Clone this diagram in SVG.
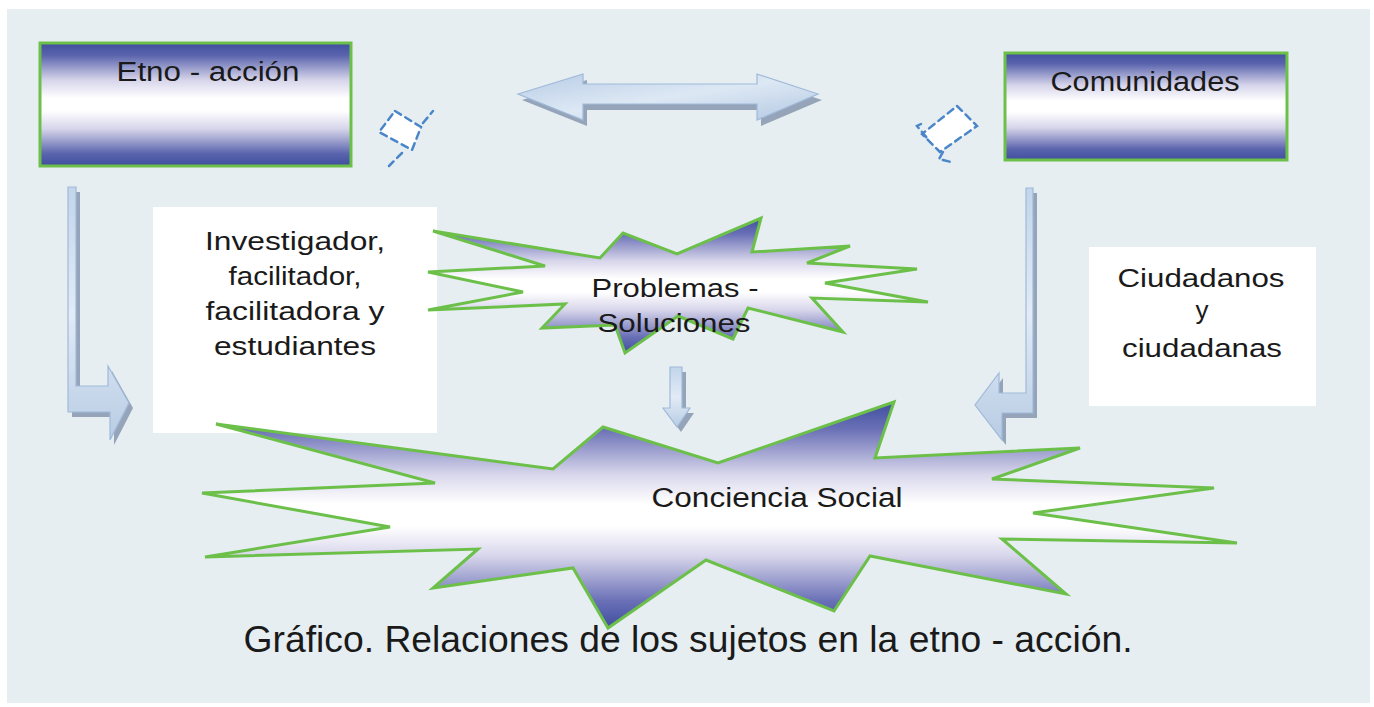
<svg xmlns="http://www.w3.org/2000/svg" width="1374" height="707" viewBox="0 0 1374 707">
<defs>
<linearGradient id="boxg" x1="0" y1="0" x2="0" y2="1">
<stop offset="0" stop-color="#3f4e9f"/>
<stop offset="0.1" stop-color="#5a64ad"/>
<stop offset="0.3" stop-color="#d6d4ea"/>
<stop offset="0.45" stop-color="#ffffff"/>
<stop offset="0.55" stop-color="#ffffff"/>
<stop offset="0.7" stop-color="#d6d4ea"/>
<stop offset="0.9" stop-color="#5a64ad"/>
<stop offset="1" stop-color="#3f4e9f"/>
</linearGradient>
<linearGradient id="starg" x1="0" y1="0" x2="0" y2="1">
<stop offset="0" stop-color="#3f4e9f"/>
<stop offset="0.12" stop-color="#6a70b6"/>
<stop offset="0.32" stop-color="#d8d6eb"/>
<stop offset="0.45" stop-color="#ffffff"/>
<stop offset="0.55" stop-color="#ffffff"/>
<stop offset="0.68" stop-color="#d8d6eb"/>
<stop offset="0.88" stop-color="#6a70b6"/>
<stop offset="1" stop-color="#3f4e9f"/>
</linearGradient>
<linearGradient id="arrg" x1="0" y1="0" x2="1" y2="1">
<stop offset="0" stop-color="#b8cde6"/>
<stop offset="0.5" stop-color="#dde8f4"/>
<stop offset="1" stop-color="#b3c8e2"/>
</linearGradient>
<linearGradient id="arrgv" x1="0" y1="0" x2="0" y2="1">
<stop offset="0" stop-color="#c2d5ea"/>
<stop offset="0.5" stop-color="#e2ebf6"/>
<stop offset="1" stop-color="#b8cce4"/>
</linearGradient>
</defs>
<style>
.t{font-family:"Liberation Sans",Arial,sans-serif;fill:#1a1a1a;}
.box{fill:url(#boxg);stroke:#6cc04a;stroke-width:3;}
.star{fill:url(#starg);stroke:#6cc04a;stroke-width:3;stroke-linejoin:miter;}
.wbox{fill:#ffffff;}
.arr{fill:url(#arrg);stroke:#9fb9d9;stroke-width:1.2;}
.arrv{fill:url(#arrgv);stroke:#9fb9d9;stroke-width:1.2;}
.sh{fill:#8697ae;opacity:0.85;}
.dash{fill:#ffffff;stroke:#4a86c8;stroke-width:2.5;stroke-dasharray:7 5;stroke-linecap:round;}
.dl{fill:none;stroke:#4a86c8;stroke-width:2.5;stroke-dasharray:7 5;stroke-linecap:round;}
</style>
<rect x="0" y="0" width="1374" height="707" fill="#ffffff"/>
<rect x="7" y="9" width="1363" height="694" fill="#e6eef2"/>

<g id="connectors">
<g id="double-arrow">
<polygon class="sh" points="522,100 587,80 587,90 761,90 761,80 822,100 761,126 761,110 587,110 587,126"/>
<polygon class="arr" points="518,94 583,74 583,84 757,84 757,74 818,94 757,120 757,104 583,104 583,120"/>
</g>
<g id="left-bent-arrow">
<polygon class="sh" points="72,192 80,192 80,391 112,391 112,371 133,408 114,445 114,417 72,417"/>
<polygon class="arrv" points="68,187 76,187 76,386 108,386 108,366 129,403 110,440 110,412 68,412"/>
</g>
<g id="right-bent-arrow">
<polygon class="sh" points="1030,193 1037,193 1037,418 1006,418 1006,445 979,410 1003,378 1003,398 1030,398"/>
<polygon class="arrv" points="1026,188 1033,188 1033,413 1002,413 1002,440 975,405 999,373 999,393 1026,393"/>
</g>
<g id="down-arrow">
<polygon class="sh" points="674,372 686,372 686,413 694,413 681,432 667,413 674,413"/>
<polygon class="arrv" points="670,367 682,367 682,408 690,408 677,427 663,408 670,408"/>
</g>
<g id="dashed-left">
<polygon class="dash" points="395,111 421,127 412,150 379,132"/>
<path class="dl" d="M423,123 L433,111"/>
<path class="dl" d="M402,153 L389,166"/>
</g>
<g id="dashed-right">
<polygon class="dash" points="957,106 977,126 940,152 922,134"/>
<path class="dl" d="M921,124 L917,126 L927,138"/>
<path class="dl" d="M943,152 L939,159 L951,162"/>
</g>
</g>

<g id="etno-accion">
<rect class="box" x="40" y="43" width="311" height="123"/>
<text class="t" x="208" y="81" font-size="27" text-anchor="middle" textLength="183" lengthAdjust="spacingAndGlyphs">Etno - acción</text>
</g>

<g id="comunidades">
<rect class="box" x="1005" y="53" width="282" height="107"/>
<text class="t" x="1145" y="91" font-size="27" text-anchor="middle" textLength="189" lengthAdjust="spacingAndGlyphs">Comunidades</text>
</g>

<g id="investigador">
<rect class="wbox" x="153" y="207" width="284" height="226"/>
<text class="t" x="295" y="250" font-size="26" text-anchor="middle" textLength="180" lengthAdjust="spacingAndGlyphs">Investigador,</text>
<text class="t" x="295" y="285" font-size="26" text-anchor="middle" textLength="133" lengthAdjust="spacingAndGlyphs">facilitador,</text>
<text class="t" x="295" y="320" font-size="26" text-anchor="middle" textLength="179" lengthAdjust="spacingAndGlyphs">facilitadora y</text>
<text class="t" x="295" y="355" font-size="26" text-anchor="middle" textLength="162" lengthAdjust="spacingAndGlyphs">estudiantes</text>
</g>

<g id="ciudadanos">
<rect class="wbox" x="1089" y="247" width="227" height="159"/>
<text class="t" x="1201" y="287" font-size="26" text-anchor="middle" textLength="167" lengthAdjust="spacingAndGlyphs">Ciudadanos</text>
<text class="t" x="1202" y="319" font-size="26" text-anchor="middle">y</text>
<text class="t" x="1202" y="357" font-size="26" text-anchor="middle" textLength="160" lengthAdjust="spacingAndGlyphs">ciudadanas</text>
</g>

<g id="problemas-soluciones">
<polygon class="star" points="433,231 600,258 623,233 677,254 761,218 752,252 850,246 807,263 917,269 825,283 928,302 812,298 843,332 748,308 733,339 678,316 625,353 615,325 542,328 565,304 428,310 523,292 428,272 545,266"/>
<text class="t" x="675" y="297" font-size="26" text-anchor="middle" textLength="167" lengthAdjust="spacingAndGlyphs">Problemas -</text>
<text class="t" x="674" y="332" font-size="26" text-anchor="middle" textLength="153" lengthAdjust="spacingAndGlyphs">Soluciones</text>
</g>

<g id="conciencia-social">
<polygon class="star" points="216,424 553,469 603,427 718,463 894,402 875,458 1080,448 992,479 1214,488 1033,513 1237,543 1002,539 1066,594 870,556 834,611 706,560 608,628 573,568 433,588 478,549 205,557 390,527 202,493 435,483"/>
<text class="t" x="777" y="507" font-size="27" text-anchor="middle" textLength="251" lengthAdjust="spacingAndGlyphs">Conciencia Social</text>
</g>

<text class="t" x="688" y="652" font-size="36" text-anchor="middle" textLength="889" lengthAdjust="spacingAndGlyphs">Gráfico. Relaciones de los sujetos en la etno - acción.</text>
</svg>
